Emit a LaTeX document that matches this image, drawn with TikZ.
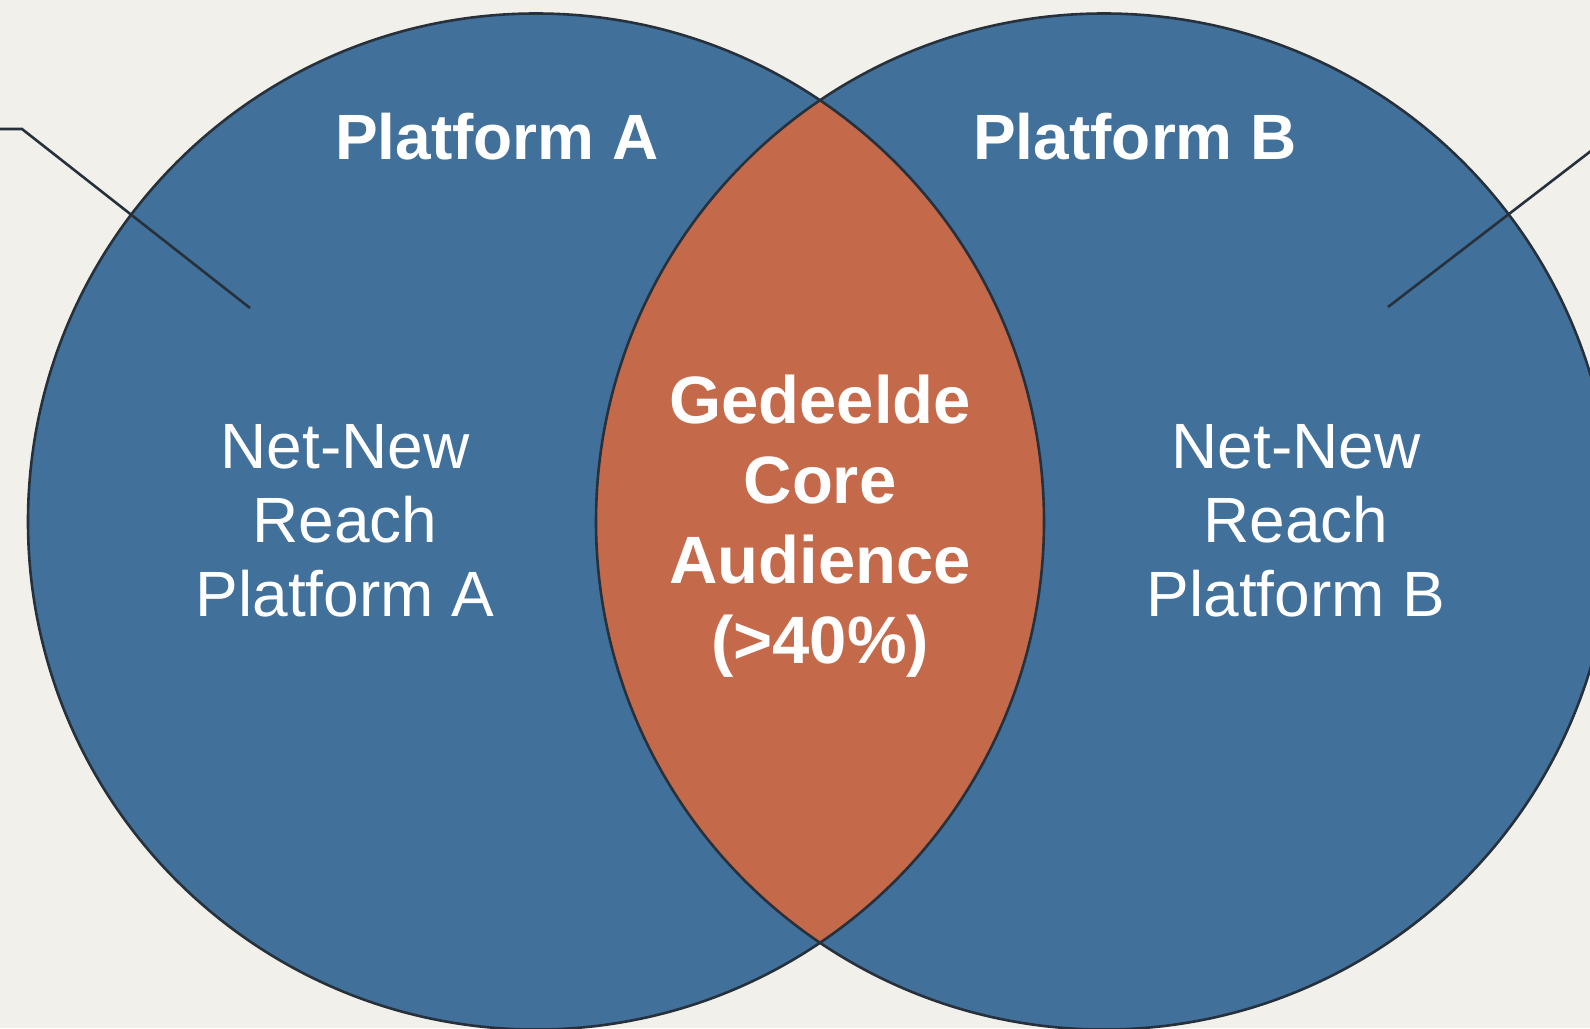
\documentclass[tikz,border=0pt]{standalone}
\usepackage{fontspec}
\setmainfont{Liberation Sans}
\definecolor{paper}{HTML}{F2F0EA}
\definecolor{setblue}{HTML}{41709B}
\definecolor{overlap}{HTML}{C4694A}
\definecolor{rim}{HTML}{27313C}

\begin{document}
\begin{tikzpicture}[
  x=0.5pt, y=-0.5pt,
  venn/.style={draw=rim, line width=1.3pt},
  title/.style={text=white, font=\fontsize{32}{38}\selectfont\bfseries},
  reach/.style={text=white, align=center, font=\fontsize{32}{37}\selectfont},
  core/.style={text=white, align=center, font=\fontsize{33.5}{40}\selectfont\bfseries},
  pointer/.style={draw=rim, line width=1.3pt}
]
\useasboundingbox (0,0) rectangle (1590,1028);
\clip (0,0) rectangle (1590,1028);
\fill[paper] (0,0) rectangle (1590,1028);

\coordinate (ca) at (536,521.5);
\coordinate (cb) at (1104,521.5);

% the two sets and their overlap
\fill[setblue] (ca) circle[radius=508];
\fill[setblue] (cb) circle[radius=508];
\begin{scope}
  \clip (ca) circle[radius=508];
  \fill[overlap] (cb) circle[radius=508];
\end{scope}
\draw[venn] (ca) circle[radius=508];
\draw[venn] (cb) circle[radius=508];

% callout lines
\coordinate (endA) at (-4,129);
\coordinate (kneeA) at (22,129);
\coordinate (tipA) at (250,308);
\coordinate (endB) at (1600,144);
\coordinate (tipB) at (1388,307);
\draw[pointer] (endA) -- (kneeA) -- (tipA);
\draw[pointer] (endB) -- (tipB);

\node[title] (platA) at (497,137) {Platform A};
\node[title] (platB) at (1135,137) {Platform B};
\node[reach] (reachA) at (345,521) {Net-New\\Reach\\Platform A};
\node[reach] (reachB) at (1296,521) {Net-New\\Reach\\Platform B};
\node[core] (shared) at (820,526) {Gedeelde\\Core\\Audience\\(>40\%)};
\end{tikzpicture}
\end{document}
